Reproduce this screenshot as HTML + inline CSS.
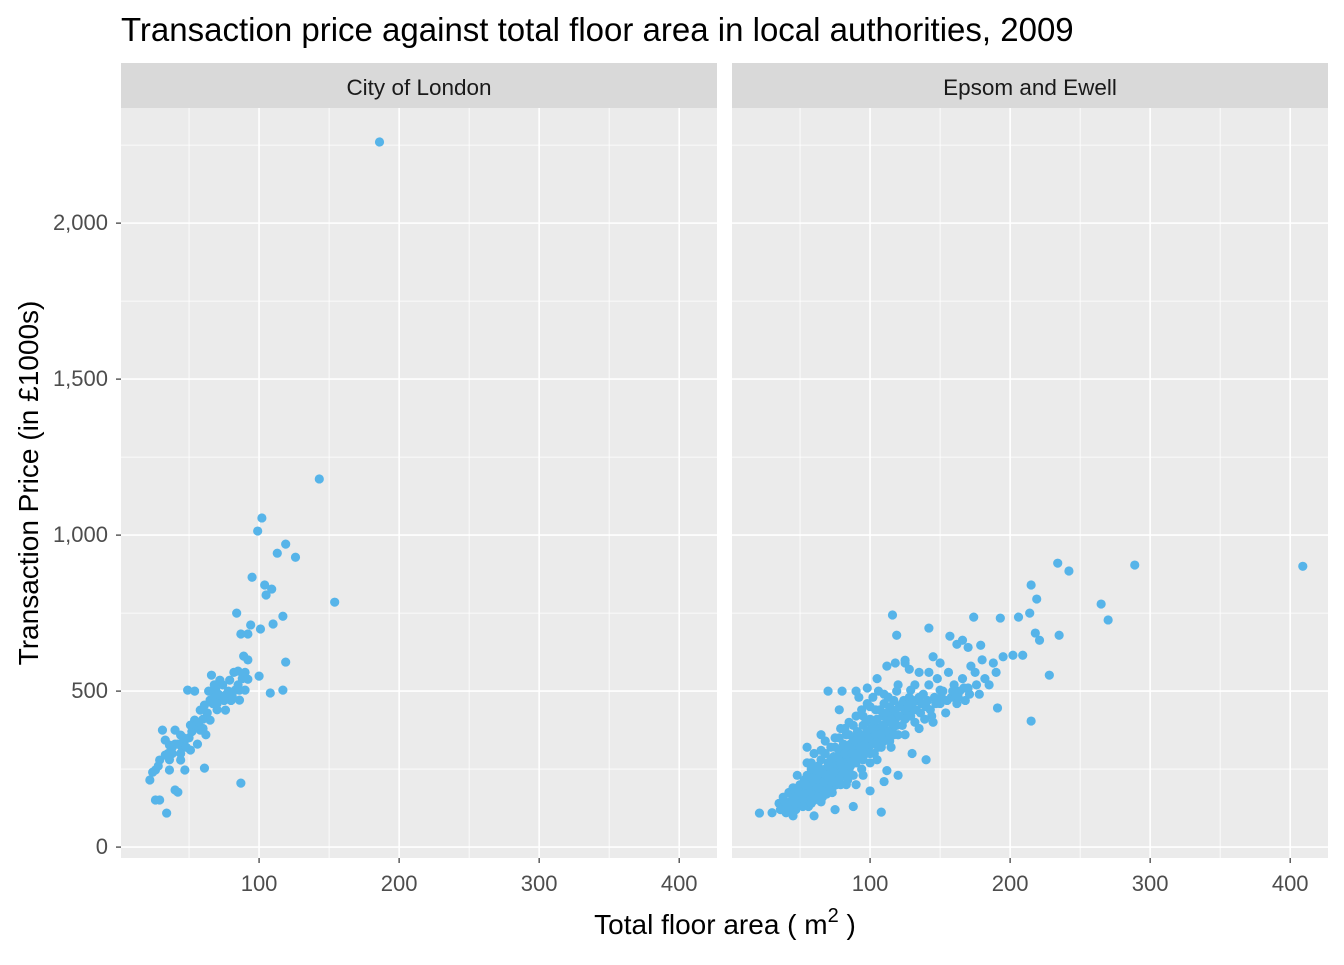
<!DOCTYPE html>
<html><head><meta charset="utf-8"><style>
body{margin:0;background:#fff;}
svg text{font-family:"Liberation Sans",Arial,sans-serif;}
</style></head><body>
<svg id="chart" width="1344" height="960" xmlns="http://www.w3.org/2000/svg">
<text x="121" y="41" font-size="33" fill="#000">Transaction price against total floor area in local authorities, 2009</text>
<text x="725" y="934" font-size="28" fill="#000" text-anchor="middle">Total floor area ( m<tspan dy="-12" font-size="20">2</tspan><tspan dy="12"> )</tspan></text>
<text transform="translate(38,483) rotate(-90)" font-size="28" fill="#000" text-anchor="middle">Transaction Price (in £1000s)</text>
<g id="layer"></g>
</svg>
<script>
const panelNames = ["City of London", "Epsom and Ewell"];
const xTicks = [100, 200, 300, 400];
const xMinor = [50, 150, 250, 350];
const yTicks = [0, 500, 1000, 1500, 2000];
const yTickLabels = ["0", "500", "1,000", "1,500", "2,000"];
const yMinor = [250, 750, 1250, 1750, 2250];
const londonData = [[186,2260],[143,1180],[154,785],[102,1055],[99,1013],[119,971],[126,929],[113,942],[104,840],[109,827],[105,808],[95,865],[117,740],[110,715],[101,699],[94,712],[84,750],[119,593],[117,503],[108,494],[87,683],[92,683],[89,612],[92,600],[85,564],[100,548],[92,538],[87,205],[49,503],[54,500],[34,109],[61,253],
[22,215],[26,247],[29,279],[33,343],[36,327],[40,375],[44,359],[47,343],[51,391],[54,407],[58,439],[61,455],[65,471],[69,503],[72,471],[76,487],[79,487],[83,503],[86,471],[90,503],[44,279],[40,183],[47,247],[29,151],[26,151],[58,375],[65,407],[72,535],[79,535],[86,503],[51,311],[36,247],[31,375],[66,551],[76,439],[42,176],[33,295],[70,440],[68,480],[74,520],[80,470],[56,330],[62,360],[38,300],[45,320],[50,350],
[24,240],[28,260],[35,300],[38,320],[42,330],[46,350],[52,370],[55,390],[60,410],[63,430],[67,460],[71,490],[75,470],[78,500],[81,480],[85,520],[88,540],[82,560],[90,560],[64,500],[68,520],[70,460],[57,400],[60,380],[48,320],[44,300],[40,330],[36,280]];
const epsomData = [[409,900],[289,904],[265,779],[270,728],[234,910],[242,885],[215,840],[219,795],[235,679],[228,551],[215,404],[191,446],[108,112],[21,109],[116,744],[142,702],[174,737],[193,734],[206,737],[214,750],[218,686],[221,663],[209,615],[202,615],[179,647],[166,663],[157,676],[119,679],[125,599],[150,503],[129,503],
[35,140],[38,160],[40,130],[42,175],[44,150],[45,190],[47,120],[48,165],[50,200],[50,140],[52,180],[53,215],[54,155],[55,230],[56,130],[57,190],[58,170],[58,250],[60,210],[60,150],[61,235],[62,180],[63,260],[64,200],[65,145],[65,280],[66,225],[67,190],[68,250],[68,300],[69,170],[70,230],[70,270],[71,210],[72,320],[72,250],[73,190],[74,290],[75,230],[75,350],[76,270],[77,210],[78,310],[78,250],[79,380],[80,290],[80,230],[81,330],[82,270],[83,200],[83,360],[84,300],[85,250],[85,400],[86,330],[87,280],[88,350],[88,230],[89,310],[90,420],[90,270],[91,370],[92,330],[93,290],[94,440],[94,250],[95,390],[96,340],[97,300],[98,460],[98,370],[99,320],[100,410],[100,270],[101,350],[102,480],[103,300],[103,390],[104,440],[105,340],[106,500],[107,380],[108,320],[109,420],[110,460],[111,360],[112,400],[113,480],[114,340],[115,430],[116,380],[117,470],[118,410],[119,500],[120,360],[121,450],[122,420],[123,390],[124,470],[126,430],[128,480],[130,440],[132,400],[134,470],[136,430],[138,490],[140,450],[142,520],[144,420],[146,480],[148,540],[150,460],[152,500],[154,430],[156,560],[158,480],[160,520],[162,460],[164,500],[166,540],[168,470],[170,510],[172,580],[175,560],[178,490],[180,600],[182,540],[185,520],[188,590],[190,560],[195,610],[170,640],[162,650],[145,610],[135,560],[128,570],[125,590],[118,590],[112,580],[105,540],[98,510],[90,500],[80,500],[70,500],[78,440],[65,360],[55,320],[60,300],[82,380],[92,480],[150,590],[130,300],[140,280],[120,230],[110,210],[100,180],[88,130],[60,100],[45,100],[40,110],[30,110],[75,120],[112,245],[90,200],[55,270],[48,230],[68,340],
[45,170],[50,160],[55,180],[60,190],[65,210],[70,200],[75,260],[80,260],[85,290],[90,300],[95,320],[100,330],[105,360],[110,380],[115,400],[120,420],[125,440],[130,460],[62,230],[72,280],[82,310],[92,350],[102,380],[112,420],[122,450],
[36,120],[39,145],[43,135],[46,160],[49,180],[51,150],[53,170],[56,200],[57,150],[59,220],[61,170],[63,190],[64,240],[66,160],[67,210],[69,230],[70,180],[71,260],[73,220],[74,240],[76,200],[77,290],[78,220],[79,270],[81,250],[82,300],[84,230],[85,320],[86,260],[87,300],[89,280],[90,340],[91,300],[93,320],[94,360],[95,280],[96,310],[97,400],[99,350],[100,300],[101,380],[102,330],[104,360],[105,410],[106,320],[107,440],[108,360],[109,390],[110,340],[111,430],[113,370],[114,450],[115,410],[117,360],[118,440],[119,390],[121,420],[123,460],[125,410],[127,450],[129,420],[131,470],[133,440],[135,480],[137,460],[139,410],[141,470],[143,440],[147,460],[151,480],[155,470],[159,500],[163,480],[167,510],[171,490],[176,520],[52,130],[58,140],[63,160],[68,175],[73,175],[79,200],[84,215],[95,230],[105,280],[115,320],[125,360],[135,380],[145,400],[65,310],[75,320],[85,360],[95,420],[58,270],[100,450],[110,490],[132,520],[142,560],[120,520],[88,390],[78,350],[54,200],[47,140],[42,120]];
const panels = [{x0:121, data:londonData}, {x0:732, data:epsomData}];
const PW = 596, PT = 108, PB = 858;
const X0 = 1.4, X1 = 427, Y0 = -35, Y1 = 2369;
const NS = "http://www.w3.org/2000/svg";
const layer = document.getElementById('layer');
function mk(tag, attrs, parent){const e=document.createElementNS(NS,tag);for(const k in attrs)e.setAttribute(k,attrs[k]);(parent||layer).appendChild(e);return e;}
function yS(v){return PB-(v-Y0)/(Y1-Y0)*(PB-PT);}
panels.forEach((p,i)=>{
  const xS = v => p.x0+(v-X0)/(X1-X0)*PW;
  const g = mk('g',{});
  
  
  const bg = mk('rect',{x:p.x0,y:PT,width:PW,height:PB-PT,fill:'#EBEBEB'},g);
  
  
  const strip = mk('rect',{x:p.x0,y:63,width:PW,height:45,fill:'#D9D9D9'},g);
  
  
  const st = mk('text',{x:p.x0+PW/2,y:95,'font-size':22.5,fill:'#1A1A1A','text-anchor':'middle'},g);
  st.textContent = panelNames[i];
  
  
  xMinor.forEach(v=>{const l=mk('line',{x1:xS(v),x2:xS(v),y1:PT,y2:PB,stroke:'#fff','stroke-width':0.8},g);
    
    });
  yMinor.forEach(v=>{const l=mk('line',{x1:p.x0,x2:p.x0+PW,y1:yS(v),y2:yS(v),stroke:'#fff','stroke-width':0.8},g);
    
    });
  xTicks.forEach(v=>{const l=mk('line',{x1:xS(v),x2:xS(v),y1:PT,y2:PB,stroke:'#fff','stroke-width':1.6},g);
    
    
    const t=mk('line',{x1:xS(v),x2:xS(v),y1:PB,y2:PB+5,stroke:'#333','stroke-width':1.2},g);
    
    
    const tx=mk('text',{x:xS(v),y:891,'font-size':22,fill:'#4D4D4D','text-anchor':'middle'},g);
    tx.textContent=v;
    
    });
  yTicks.forEach((v,j)=>{const l=mk('line',{x1:p.x0,x2:p.x0+PW,y1:yS(v),y2:yS(v),stroke:'#fff','stroke-width':1.6},g);
    
    
    if(i===0){
      const t=mk('line',{x1:p.x0-5,x2:p.x0,y1:yS(v),y2:yS(v),stroke:'#333','stroke-width':1.2},g);
      
      
      const tx=mk('text',{x:108,y:yS(v)+7,'font-size':22,fill:'#4D4D4D','text-anchor':'end'},g);
      tx.textContent=yTickLabels[j];
      
      
    }});
  p.data.forEach(d=>{const c=mk('circle',{cx:xS(d[0]),cy:yS(d[1]),r:4.6,fill:'#56B4E9'},g);
    
    });
});
</script>
</body></html>
